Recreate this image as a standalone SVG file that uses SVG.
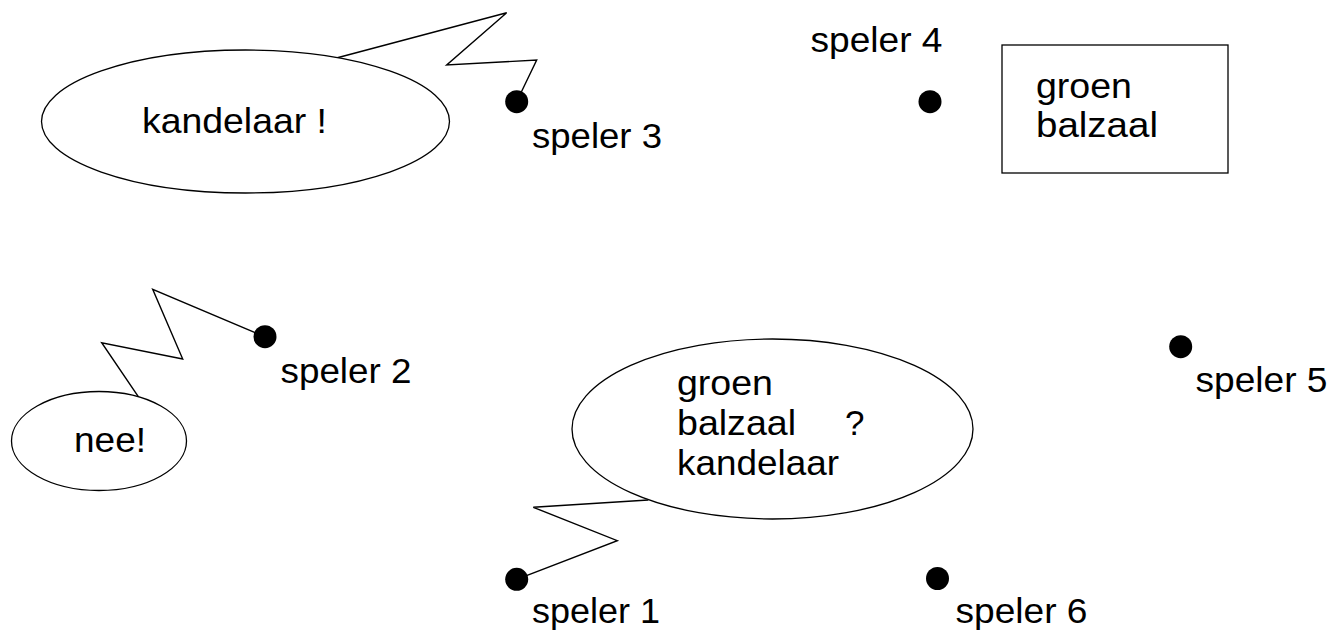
<svg xmlns="http://www.w3.org/2000/svg" width="1332" height="633" viewBox="0 0 1332 633">
<style>
text{font-family:"Liberation Sans",Arial,sans-serif;font-size:35px;fill:#000}
.shape{fill:#fff;stroke:#000;stroke-width:1.3}
.zz{fill:none;stroke:#000;stroke-width:1.4;stroke-linejoin:miter}
.dot{fill:#000}
</style>
<rect width="1332" height="633" fill="#fff"/>
<g id="connectors">
<polyline class="zz" points="331.7,59.3 506.7,12.7 446.7,65 536.7,60 517,101"/>
<polyline class="zz" points="138.3,396.7 101.7,342.7 182.7,359 152.7,289.3 265,336.7"/>
<polyline class="zz" points="648.3,500 533.3,507.3 617.3,540.7 516.7,579.3"/>
</g>
<g id="bubble-kandelaar">
<ellipse class="shape" cx="245.5" cy="121.5" rx="204" ry="71.5"/>
<text x="142" y="133" textLength="185" lengthAdjust="spacingAndGlyphs">kandelaar !</text>
</g>
<g id="bubble-nee">
<ellipse class="shape" cx="99" cy="441" rx="87.5" ry="49.5"/>
<text x="74" y="452" textLength="72" lengthAdjust="spacingAndGlyphs">nee!</text>
</g>
<g id="bubble-vraag">
<ellipse class="shape" cx="772.5" cy="429" rx="200.5" ry="90"/>
<text x="677" y="395" textLength="96" lengthAdjust="spacingAndGlyphs">groen</text>
<text x="677" y="435" textLength="119" lengthAdjust="spacingAndGlyphs">balzaal</text>
<text x="845" y="435">?</text>
<text x="677" y="475" textLength="162" lengthAdjust="spacingAndGlyphs">kandelaar</text>
</g>
<g id="kaart">
<rect class="shape" x="1002" y="45" width="226" height="128"/>
<text x="1036" y="98" textLength="96" lengthAdjust="spacingAndGlyphs">groen</text>
<text x="1036" y="137" textLength="122" lengthAdjust="spacingAndGlyphs">balzaal</text>
</g>
<g id="speler1">
<circle class="dot" cx="516.7" cy="579.3" r="11.5"/>
<text x="532" y="623" textLength="128" lengthAdjust="spacingAndGlyphs">speler 1</text>
</g>
<g id="speler2">
<circle class="dot" cx="265" cy="336.7" r="11.5"/>
<text x="280.5" y="383" textLength="131" lengthAdjust="spacingAndGlyphs">speler 2</text>
</g>
<g id="speler3">
<circle class="dot" cx="516.7" cy="101.7" r="11.5"/>
<text x="532" y="148" textLength="130" lengthAdjust="spacingAndGlyphs">speler 3</text>
</g>
<g id="speler4">
<circle class="dot" cx="930" cy="101.7" r="11.5"/>
<text x="810.5" y="52" textLength="132" lengthAdjust="spacingAndGlyphs">speler 4</text>
</g>
<g id="speler5">
<circle class="dot" cx="1180.7" cy="346.7" r="11.5"/>
<text x="1195.5" y="392" textLength="132" lengthAdjust="spacingAndGlyphs">speler 5</text>
</g>
<g id="speler6">
<circle class="dot" cx="937.5" cy="578.5" r="11.5"/>
<text x="955.5" y="623" textLength="132" lengthAdjust="spacingAndGlyphs">speler 6</text>
</g>
</svg>
